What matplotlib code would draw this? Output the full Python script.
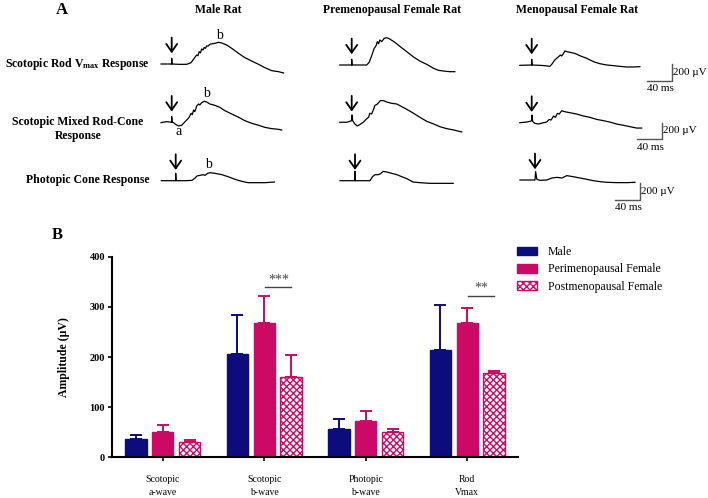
import numpy as np
import matplotlib.pyplot as plt
from matplotlib.patches import Patch

plt.rcParams['font.family'] = ['Liberation Serif', 'DejaVu Serif']
plt.rcParams['mathtext.fontset'] = 'custom'
plt.rcParams['mathtext.rm'] = 'Liberation Serif:bold'
plt.rcParams['mathtext.default'] = 'rm'
plt.rcParams['hatch.linewidth'] = 1.0

# ---- panel A: representative ERG traces (ms after flash, uV from baseline) ----
male_rod_ms = [-17, 0, 0, 0.5, 11, 24, 31, 36, 40, 42, 44, 46, 48, 50, 52, 54, 56, 58, 61, 65, 69, 75, 80, 88, 96, 107, 117, 128, 139, 149, 160, 171, 179]
male_rod_uv = [0, 0, 69, 0, -4, -4, 16, 69, 110, 100, 150, 135, 182, 170, 200, 190, 220, 215, 238, 246, 250, 263, 255, 230, 190, 129, 77, 36, -4, -44, -81, -93, -109]
peri_rod_ms = [-19, 0, 0, 0.5, 13, 24, 28, 32, 36, 39, 41, 43, 45, 48, 52, 56, 61, 69, 77, 88, 99, 109, 120, 131, 139, 147, 157, 165]
peri_rod_uv = [0, 0, 69, 0, 0, 0, 32, 113, 202, 234, 283, 258, 303, 283, 323, 331, 315, 275, 226, 162, 97, 48, 8, -40, -65, -73, -81, -81]
meno_rod_ms = [-19, 0, 0, 0.5, 13, 21, 29, 32, 37, 43, 46, 48, 51, 53, 56, 61, 69, 77, 88, 99, 109, 120, 131, 141, 152, 163, 173]
meno_rod_uv = [-4, 0, 69, 0, -4, -8, -16, 8, 61, 101, 121, 109, 141, 170, 162, 154, 141, 113, 81, 40, 16, 0, -8, -16, -24, -24, -20]

male_mix_ms = [-17, -8, 0, 0, 0.5, 3, 6, 11, 16, 20, 24, 28, 31, 33, 35, 37, 40, 43, 45, 48, 52, 56, 61, 69, 77, 85, 96, 107, 117, 128, 139, 149, 160, 171, 176]
male_mix_uv = [-4, 8, 0, 69, 0, -4, -24, -44, -36, -4, 28, 61, 109, 93, 149, 129, 198, 222, 210, 238, 255, 246, 222, 206, 182, 141, 101, 61, 20, -12, -36, -61, -77, -85, -93]
peri_mix_ms = [-19, -8, -3, 0, 0.5, 1.5, 5, 9, 13, 19, 23, 27, 29, 32, 35, 37, 40, 43, 46, 51, 56, 64, 72, 80, 88, 99, 109, 120, 131, 141, 152, 163, 176]
peri_mix_uv = [0, 0, 12, 20, 89, 20, -20, -44, -28, 4, 36, 61, 109, 101, 158, 206, 214, 238, 263, 263, 246, 230, 222, 190, 158, 109, 61, 12, -20, -53, -77, -93, -117]
meno_mix_ms = [-19, -8, -3, 0, 0.5, 1.5, 5, 11, 19, 24, 28, 31, 35, 38, 41, 44, 48, 53, 61, 72, 83, 93, 104, 115, 125, 136, 147, 157, 168, 176]
meno_mix_uv = [0, 8, 16, 24, 93, 16, -8, -16, 0, 8, 40, 32, 81, 65, 113, 105, 145, 133, 121, 105, 81, 65, 40, 24, 8, -16, -32, -48, -65, -65]

male_pho_ms = [-23, 0, 0, 0.5, 15, 26, 31, 34, 39, 44, 47, 51, 55, 63, 74, 84, 95, 106, 116, 127, 143, 158]
male_pho_uv = [0, 0, 89, 0, 0, 4, 32, 57, 65, 73, 65, 89, 97, 89, 73, 48, 16, -8, -24, -24, -24, -16]
peri_pho_ms = [-24, 0, 0, 0.5, 13, 24, 28, 32, 37, 41, 45, 51, 59, 67, 75, 83, 93, 104, 120, 136, 157]
peri_pho_uv = [0, 0, 113, 0, 0, 0, 48, 73, 73, 85, 113, 105, 89, 73, 48, 24, -16, -24, -32, -32, -32]
meno_pho_ms = [-24, 0, 1, 3, 8, 19, 27, 35, 43, 51, 61, 72, 83, 93, 104, 115, 131, 147, 160]
meno_pho_uv = [0, 0, 101, 8, -4, 0, 24, 32, 24, 53, 40, 24, 8, -8, -20, -28, -32, -32, -28]

col_titles = ["Male Rat", "Premenopausal Female Rat", "Menopausal Female Rat"]
row_titles = [r"Scotopic Rod V$_{max}$ Response", "Scotopic Mixed Rod-Cone\nResponse", "Photopic Cone Response"]

# ---- panel B: amplitudes (uV), mean and SEM ----
groups = ["Scotopic\na-wave", "Scotopic\nb-wave", "Photopic\nb-wave", "Rod\nVmax"]
series = ["Male", "Perimenopausal Female", "Postmenopausal Female"]
male_mean = [36, 206, 57, 213]
male_err = [9, 77, 20, 91]
peri_mean = [51, 267, 73, 268]
peri_err = [14, 54, 20, 29]
post_mean = [30, 160, 51, 168]
post_err = [5, 43, 5, 5]
sig_groups = [1, 3]
sig_labels = ["***", "**"]
sig_y = [339, 322]

NAVY = "#0c0c7c"
PINK = "#cc0a66"
W, H = 708, 498
PX_MS, PX_UV = 0.625, 0.0825   # scale of the traces in figure pixels

fig = plt.figure(figsize=(W / 100, H / 100), dpi=100)


def trace_ax(cx, cy):
    x0, x1, y0, y1 = -40, 250, -320, 460
    left = cx + x0 * PX_MS
    top = cy - y1 * PX_UV
    a = fig.add_axes([left / W, 1 - (top + (y1 - y0) * PX_UV) / H,
                      (x1 - x0) * PX_MS / W, (y1 - y0) * PX_UV / H])
    a.set_xlim(x0, x1)
    a.set_ylim(y0, y1)
    a.axis("off")
    a.patch.set_alpha(0)
    return a


traces = [
    [(male_rod_ms, male_rod_uv), (peri_rod_ms, peri_rod_uv), (meno_rod_ms, meno_rod_uv)],
    [(male_mix_ms, male_mix_uv), (peri_mix_ms, peri_mix_uv), (meno_mix_ms, meno_mix_uv)],
    [(male_pho_ms, male_pho_uv), (peri_pho_ms, peri_pho_uv), (meno_pho_ms, meno_pho_uv)],
]
stim_pos = [
    [(171.7, 64), (351.7, 65), (531.7, 65)],
    [(171.7, 122.3), (351.7, 122.3), (531.7, 122.7)],
    [(175.7, 180.7), (355, 180.7), (535, 180)],
]
# scale bars: (x start ms, y bottom uV)
bars = [(184, -190), (168, -200), (128, -240)]

for r in range(3):
    for c in range(3):
        ms, uv = traces[r][c]
        a = trace_ax(*stim_pos[r][c])
        a.plot(ms, uv, color="black", lw=0.9)
        a.annotate("", xy=(0, 130), xytext=(0, 320),
                   arrowprops=dict(arrowstyle="->,head_length=0.4,head_width=0.28",
                                   lw=1.3, color="black", mutation_scale=14,
                                   shrinkA=0, shrinkB=0))
        if c == 0:
            if r == 0:
                a.text(77, 345, "b", ha="center", va="center", fontsize=10)
            elif r == 1:
                a.text(56, 345, "b", ha="center", va="center", fontsize=10)
                a.text(11, -115, "a", ha="center", va="center", fontsize=10)
            else:
                a.text(52, 200, "b", ha="center", va="center", fontsize=10)
        if c == 2:
            bx, by = bars[r]
            a.plot([bx, bx + 40, bx + 40], [by, by, by + 200], color="#555555", lw=1.0, clip_on=False)
            a.text(bx + 42, by + 100, "200 µV", ha="left", va="center", fontsize=8)
            a.text(bx, by - 40, "40 ms", ha="left", va="top", fontsize=8)

fig.text(62 / W, 1 - 10 / H, "A", ha="center", va="center", fontsize=12, fontweight="bold")
for cx, t in zip([218, 392, 577], col_titles):
    fig.text(cx / W, 1 - 10 / H, t, ha="center", va="center", fontsize=8.5, fontweight="bold")
fig.text(150 / W, 1 - 64 / H, row_titles[0], ha="right", va="center", fontsize=8.5, fontweight="bold")
fig.text(78 / W, 1 - 129 / H, row_titles[1], ha="center", va="center", fontsize=8.5,
         fontweight="bold", linespacing=1.3)
fig.text(150 / W, 1 - 180 / H, row_titles[2], ha="right", va="center", fontsize=8.5, fontweight="bold")

# ---- panel B ----
fig.text(57 / W, 1 - 235 / H, "B", ha="center", va="center", fontsize=12, fontweight="bold")
ax = fig.add_axes([112 / W, 1 - 457.3 / H, 406 / W, 200.6 / H])
x = np.arange(len(groups))
off, bw = 0.265, 0.21
ax.bar(x - off, male_mean, bw, color=NAVY, edgecolor=NAVY, lw=1, zorder=2)
ax.bar(x, peri_mean, bw, color=PINK, edgecolor=PINK, lw=1, zorder=2)
ax.bar(x + off, post_mean, bw, color="white", edgecolor=PINK, hatch="xxxxx", lw=1, zorder=2)
for xs, m, e, col in [(x - off, male_mean, male_err, NAVY), (x, peri_mean, peri_err, PINK),
                      (x + off, post_mean, post_err, PINK)]:
    ax.errorbar(xs, m, yerr=[np.zeros(len(m)), e], fmt="none", ecolor=col,
                elinewidth=1.4, capsize=4.5, capthick=1.4, zorder=1)
for g, lab, yy in zip(sig_groups, sig_labels, sig_y):
    ax.plot([g + 0.01, g + off], [yy, yy], color="#444444", lw=1.0)
    ax.text(g + 0.14, yy + 2, lab, ha="center", va="bottom", fontsize=10, color="#444444")

ax.set_xlim(-0.5, 3.5)
ax.set_ylim(0, 400)
ax.set_yticks([0, 100, 200, 300, 400])
ax.set_xticks(x)
ax.set_xticklabels(groups, fontsize=7, linespacing=1.5)
for t in ax.get_yticklabels():
    t.set_fontweight("bold")
    t.set_fontsize(7.5)
ax.tick_params(axis="y", direction="out", length=3, width=1.2, pad=2)
ax.tick_params(axis="x", direction="out", length=3, width=1.2, pad=10)
for s in ["top", "right"]:
    ax.spines[s].set_visible(False)
for s in ["left", "bottom"]:
    ax.spines[s].set_linewidth(1.5)
ax.set_ylabel("Amplitude (µV)", fontsize=8.5, fontweight="bold", labelpad=14)

handles = [Patch(facecolor=NAVY, edgecolor=NAVY),
           Patch(facecolor=PINK, edgecolor=PINK),
           Patch(facecolor="white", edgecolor=PINK, hatch="xxxxx")]
fig.legend(handles, series, loc="upper left", bbox_to_anchor=(517 / W, 1 - 246 / H),
           frameon=False, fontsize=8.5, handlelength=1.7, handleheight=0.75,
           handletextpad=0.9, labelspacing=0.45, borderpad=0, borderaxespad=0)

fig.savefig("out.png", dpi=100)
